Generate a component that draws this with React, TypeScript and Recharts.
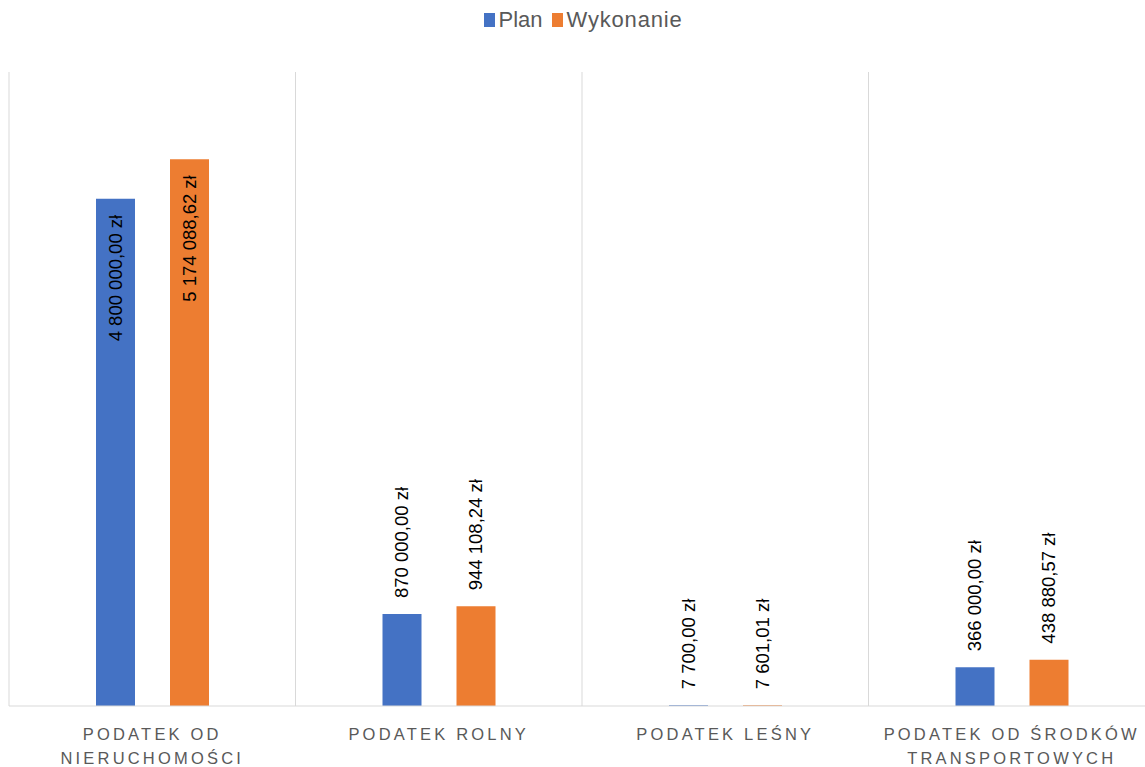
import React from 'react';
import { BarChart, Bar, XAxis, YAxis, CartesianGrid, Legend, LabelList } from 'recharts';

const categories = ['PODATEK OD\nNIERUCHOMOŚCI', 'PODATEK ROLNY', 'PODATEK LEŚNY', 'PODATEK OD ŚRODKÓW\nTRANSPORTOWYCH'];
const planValues = [4800000, 870000, 7700, 366000];
const wykonanieValues = [5174088.62, 944108.24, 7601.01, 438880.57];
const seriesNames = ['Plan', 'Wykonanie'];
const colors = ['#4472C4', '#ED7D31'];

const data = categories.map((c, i) => ({ name: c, plan: planValues[i], wyk: wykonanieValues[i] }));

const fmt = (v: number) => {
  const [int, dec] = v.toFixed(2).split('.');
  const withSpaces = int.replace(/\B(?=(\d{3})+(?!\d))/g, ' ');
  return `${withSpaces},${dec} zł`;
};

const BarLabel = (props: any) => {
  const { x, y, width, height, value } = props;
  const cx = x + width / 2;
  const inside = height > 300;
  const ay = inside ? y + 16 : y - 16;
  return (
    <text
      x={cx}
      y={ay}
      transform={`rotate(-90 ${cx} ${ay})`}
      textAnchor={inside ? 'end' : 'start'}
      dominantBaseline="central"
      fontFamily="Liberation Sans, Arial, sans-serif"
      fontSize={18.5}
      fill="#000"
    >
      {fmt(value)}
    </text>
  );
};

const CategoryTick = (props: any) => {
  const { x, y, payload } = props;
  const lines = String(payload.value).split('\n');
  return (
    <g>
      {lines.map((l, i) => (
        <text
          key={i}
          x={x}
          y={y + 34 + i * 24}
          textAnchor="middle"
          fontFamily="Liberation Sans, Arial, sans-serif"
          fontSize={16.5}
          letterSpacing={3.2}
          fill="#595959"
        >
          {l}
        </text>
      ))}
    </g>
  );
};

const LegendContent = () => (
  <div style={{ height: 72, display: 'flex', justifyContent: 'center', paddingLeft: 2, boxSizing: 'border-box' }}>
    {seriesNames.map((n, i) => (
      <div key={n} style={{ display: 'flex', alignItems: 'center', marginRight: i === 0 ? 9 : 0, height: 40 }}>
        <span style={{ display: 'inline-block', width: 11, height: 14, background: colors[i], marginRight: 4 }} />
        <span style={{ fontFamily: 'Liberation Sans, Arial, sans-serif', fontSize: 22, color: '#595959', letterSpacing: i === 1 ? 0.8 : 0 }}>{n}</span>
      </div>
    ))}
  </div>
);

export default function App() {
  return (
    <div style={{ position: 'absolute', left: 0, top: 0, width: 1145, height: 767, overflow: 'hidden', background: '#fff' }}>
      <BarChart
        width={1160}
        height={767}
        data={data}
        margin={{ top: 0, right: 5, left: 9, bottom: 0 }}
        barCategoryGap="30%"
        barGap={35}
      >
        <Legend verticalAlign="top" content={<LegendContent />} />
        <CartesianGrid
          horizontal={false}
          stroke="#d9d9d9"
          verticalCoordinatesGenerator={({ offset }: any) =>
            [0, 1, 2, 3, 4].map((i) => offset.left + (i * offset.width) / 4)
          }
        />
        <XAxis
          dataKey="name"
          height={61}
          tickSize={0}
          tickMargin={0}
          axisLine={{ stroke: '#d9d9d9' }}
          tickLine={false}
          tick={<CategoryTick />}
          interval={0}
        />
        <YAxis hide domain={[0, 6000000]} width={0} />
        <Bar dataKey="plan" name={seriesNames[0]} fill={colors[0]} barSize={39} isAnimationActive={false}>
          <LabelList dataKey="plan" content={<BarLabel />} />
        </Bar>
        <Bar dataKey="wyk" name={seriesNames[1]} fill={colors[1]} barSize={39} isAnimationActive={false}>
          <LabelList dataKey="wyk" content={<BarLabel />} />
        </Bar>
      </BarChart>
    </div>
  );
}
